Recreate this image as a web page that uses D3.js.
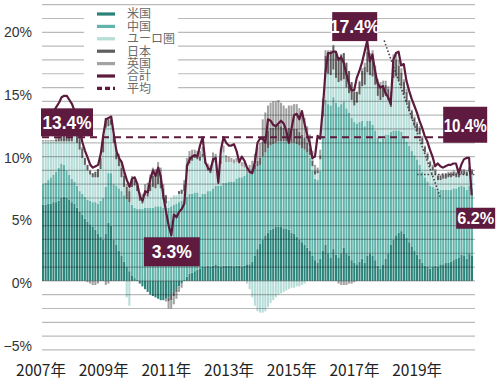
<!DOCTYPE html>
<html>
<head>
<meta charset="utf-8">
<script src="https://cdn.jsdelivr.net/npm/d3@7"></script>
<style>
  body { margin: 0; background: #fff; }
  svg { display: block; }
</style>
</head>
<body>
<div id="chart"></div>
<script>
// monthly contributions (%), Jan 2007 .. Sep 2020
const usValues = [
  5.5,5.5,5.6,5.6,5.7,5.7,5.8,6.0,6.1,6.0,5.9,5.7,
  5.6,5.3,5.0,4.8,4.5,4.3,4.1,3.9,3.7,3.4,3.2,3.0,
  3.4,4.2,4.0,3.0,2.6,2.2,1.8,1.4,1.0,0.7,0.4,0.2,
  0.1,-0.2,-0.4,-0.6,-0.8,-1.0,-1.1,-1.2,-1.3,-1.4,-1.4,-1.3,
  -1.2,-1.0,-0.8,-0.6,-0.4,-0.2,0.1,0.3,0.5,0.6,0.7,0.8,
  0.9,1.0,1.0,1.1,1.0,1.1,1.2,1.1,1.0,1.1,1.1,1.1,
  1.1,1.0,1.1,1.1,1.0,1.1,1.2,1.2,1.4,1.8,2.3,2.7,
  3.0,3.3,3.5,3.7,3.8,3.9,3.9,3.9,3.8,3.8,3.7,3.5,
  3.4,3.2,3.0,2.8,2.6,2.4,2.2,1.8,1.5,1.3,1.6,2.2,
  2.6,2.0,1.7,2.3,1.9,1.7,2.0,2.4,2.0,1.8,1.5,1.3,
  1.2,1.4,1.6,1.3,1.8,2.0,1.8,1.5,1.1,0.9,1.2,1.6,
  2.0,2.6,3.0,3.3,3.5,3.6,3.4,3.1,2.8,2.5,2.2,1.9,
  1.6,1.3,1.1,1.0,0.9,1.0,1.1,1.0,1.2,1.2,1.3,1.3,
  1.4,1.5,1.6,1.7,1.9,1.8,1.6,2.0,1.8
];
const chinaValues = [
  1.5,1.6,1.7,1.9,2.0,2.2,2.4,2.5,2.3,2.0,1.8,1.7,
  1.6,1.6,1.5,1.5,1.6,1.6,1.7,1.8,2.0,2.2,2.6,3.0,
  3.4,3.6,3.8,4.0,4.3,4.5,4.7,4.8,4.9,5.0,5.1,5.1,
  5.1,5.2,5.2,5.3,5.3,5.3,5.3,5.4,5.4,5.4,5.3,5.3,
  5.3,5.4,5.5,5.6,5.7,5.8,5.8,5.8,5.8,5.7,5.7,5.6,
  5.2,5.3,5.3,5.4,5.5,5.6,5.7,5.8,5.9,6.0,6.0,6.1,
  6.1,6.2,6.3,6.4,6.5,6.5,6.6,6.6,6.5,6.3,6.0,5.7,
  6.0,6.0,6.1,6.1,6.1,6.1,6.2,6.2,6.3,6.3,6.4,6.5,
  6.6,6.7,6.8,6.8,6.9,6.9,6.7,6.2,5.9,6.0,6.4,8.3,
  10.5,10.8,11.0,11.0,11.0,10.9,10.8,10.6,10.5,10.4,10.3,10.2,
  10.2,10.1,10.0,9.9,9.8,9.6,9.5,9.4,9.3,9.2,9.1,9.0,
  8.6,8.2,7.9,7.6,7.4,7.2,7.1,7.0,7.0,6.9,6.9,6.9,
  6.8,6.6,6.4,6.2,6.0,5.8,5.6,5.5,5.4,5.4,5.3,5.3,
  5.2,5.2,5.1,5.1,5.0,5.0,5.0,4.9,4.9
];
const euroValues = [
  3.1,3.0,2.8,2.6,2.4,2.2,1.9,1.6,1.7,2.1,2.4,2.7,
  3.3,3.1,3.0,2.6,2.3,2.1,1.9,1.8,1.8,1.9,2.3,3.3,
  4.3,3.4,3.5,3.0,1.9,1.6,1.0,0.6,-1.2,-1.8,1.3,1.6,
  1.3,0.6,0.4,0.9,0.8,1.2,1.5,1.3,1.6,1.3,0.6,0.3,
  0.5,0.6,0.7,0.6,0.6,0.5,0.6,1.8,2.2,2.4,2.5,2.4,
  2.6,2.7,2.2,1.5,1.3,1.9,1.7,0.6,1.6,2.2,1.5,1.4,
  1.4,1.3,1.2,1.0,0.8,0.6,-0.2,-0.6,-1.2,-1.8,-2.2,-2.3,
  -2.3,-2.2,-1.9,-1.6,-1.4,-1.2,-1.0,-0.9,-0.8,-0.7,-0.6,-0.5,
  -0.5,-0.4,-0.4,-0.3,-0.2,0.0,0.2,0.3,0.3,0.5,0.8,1.4,
  2.0,2.2,2.2,2.0,1.8,1.8,1.7,1.6,1.5,1.4,1.3,1.2,
  1.5,2.0,2.5,3.0,3.5,3.3,3.5,3.3,3.0,3.0,3.0,2.8,
  2.5,1.8,3.8,3.9,3.6,3.3,3.0,2.8,2.5,2.3,2.1,2.0,
  2.2,2.0,1.8,1.6,1.4,1.2,1.0,0.8,0.7,0.8,0.8,0.9,
  0.9,0.9,0.8,0.7,0.8,0.9,1.0,1.0,1.0
];
const japanValues = [
  0.0,0.0,0.0,0.0,0.0,0.1,0.3,0.6,0.7,0.6,0.6,0.7,
  0.8,0.9,1.0,0.7,0.5,0.4,0.3,0.3,0.4,0.6,0.8,1.0,
  0.7,0.5,0.4,0.5,0.5,0.6,0.7,0.8,0.9,0.8,0.6,0.4,
  0.4,0.3,0.3,0.3,0.4,0.5,0.8,0.9,1.0,1.0,0.8,0.6,
  -0.3,-0.4,-0.3,-0.2,0.2,0.3,0.5,0.6,0.5,0.4,0.3,0.3,
  0.3,0.2,0.1,0.2,0.3,0.3,0.2,0.2,0.1,0.0,0.0,0.0,
  0.0,0.0,0.0,0.0,0.0,0.0,0.0,0.1,0.2,0.3,0.4,0.5,
  1.1,1.2,1.3,1.3,1.2,1.2,1.2,1.1,1.0,0.9,1.0,1.0,
  1.0,1.1,1.0,1.0,0.9,0.7,0.5,0.4,0.3,0.2,0.3,0.5,
  1.2,1.4,1.6,1.7,1.8,1.8,1.9,1.9,1.8,1.6,1.3,1.0,
  0.8,0.9,1.1,1.3,1.5,1.2,1.4,1.1,1.0,1.0,0.9,0.8,
  0.8,0.9,1.2,1.2,1.1,1.0,0.9,0.8,0.7,0.6,0.6,0.6,
  0.5,0.5,0.4,0.4,0.3,0.3,0.3,0.3,0.3,0.3,0.3,0.3,
  0.3,0.3,0.3,0.3,0.3,0.3,0.3,0.3,0.3
];
const ukValues = [
  0.1,0.1,0.1,0.1,0.1,0.2,0.3,0.4,0.3,0.3,0.3,0.3,
  0.3,0.3,0.2,0.1,0.0,-0.1,-0.2,-0.3,-0.3,-0.2,0.0,0.1,
  -0.3,-0.2,0.0,0.1,0.2,0.3,0.4,0.3,0.2,0.2,0.2,0.2,
  0.2,0.3,0.4,0.5,0.6,0.7,0.6,0.5,0.6,0.5,0.3,-0.2,
  -0.5,-0.6,-0.6,-0.5,-0.4,-0.3,0.3,0.4,0.4,0.4,0.3,0.3,
  0.4,0.5,0.3,0.3,0.3,0.4,0.4,0.3,0.4,0.5,0.5,0.4,
  0.3,0.3,0.3,0.3,0.3,0.4,0.4,0.5,0.6,0.8,1.0,1.1,
  1.6,1.7,1.8,1.8,1.9,1.8,1.8,1.7,1.6,1.5,1.6,1.7,
  1.8,1.8,1.7,1.6,1.4,1.2,1.0,0.7,0.4,0.2,0.4,0.8,
  0.4,0.3,0.2,0.1,0.0,-0.2,-0.3,-0.3,-0.3,-0.2,-0.2,-0.1,
  0.0,0.1,0.2,0.3,0.5,0.4,0.5,0.3,0.2,0.3,0.3,0.3,
  0.2,0.2,0.5,0.5,0.4,0.3,0.2,0.2,0.1,0.1,0.1,0.1,
  0.1,0.1,0.1,0.1,0.1,0.1,0.1,0.1,0.1,0.1,0.1,0.1,
  0.1,0.1,0.1,0.1,0.1,0.1,0.1,0.1,0.1
];
const totalValues = [
  11.6,11.9,12.2,12.0,12.3,12.6,12.9,13.3,13.4,13.4,13.1,12.8,
  12.3,11.6,10.9,10.0,9.4,8.9,8.4,8.2,8.3,8.4,9.2,10.6,
  11.7,11.8,11.9,10.6,9.4,8.9,8.6,7.9,7.3,6.8,7.4,7.5,
  7.0,6.1,5.8,6.5,6.4,7.4,8.0,7.6,8.2,7.5,6.1,5.0,
  4.0,3.3,4.8,4.6,5.0,5.2,5.6,8.3,8.8,9.0,9.1,9.0,
  9.8,10.4,8.6,8.2,8.0,8.8,8.9,7.1,9.5,10.4,10.0,9.8,
  9.8,9.9,9.4,8.6,9.0,8.7,8.2,7.9,7.8,8.6,10.0,10.3,
  10.3,10.0,11.7,11.6,11.3,11.2,11.4,11.6,11.4,10.9,10.0,11.0,
  12.0,12.1,11.7,12.3,11.4,10.6,10.0,8.9,9.0,10.5,10.3,12.5,
  15.1,16.5,16.5,16.6,16.6,16.0,16.2,15.8,15.0,14.3,13.8,13.8,
  14.7,15.2,15.8,16.6,17.4,15.9,16.4,15.2,14.3,14.0,14.1,13.6,
  13.3,12.8,16.0,16.5,16.6,15.6,15.7,14.5,13.8,13.2,12.7,12.2,
  11.6,11.1,10.5,10.1,9.5,9.0,8.3,8.5,8.3,8.2,8.3,8.4,
  8.4,8.5,8.5,7.8,8.4,8.8,8.9,8.9,6.2
];
const averageValue = 10.4;

const seriesKeys = ['us', 'china', 'euro', 'japan', 'uk'];
const legendLabels = ['米国', '中国', 'ユーロ圏', '日本', '英国', '合計', '平均'];
const yearLabels = ['2007年', '2009年', '2011年', '2013年', '2015年', '2017年', '2019年'];
const yTicks = [-5, 0, 5, 10, 15, 20];

// callouts: month index, value, text
const callouts = [
  { m: 0, v: 13.4, text: '13.4%' },
  { m: 49, v: 3.3, text: '3.3%' },
  { m: 124, v: 17.4, text: '17.4%' },
  { m: 164, v: averageValue, text: '10.4%' },
  { m: 164, v: 6.2, text: '6.2%' }
];
// dotted guide lines (month index, value)
const trendLine = [[131, 17.4], [152.4, 6.1]];
const levelLine = [[143.6, 7.7], [165.5, 7.7]];

const colors = {
  us: '#2a8279', china: '#62b3aa', euro: '#b6ddd8', japan: '#5f5f5f', uk: '#a2a2a2',
  total: '#5c1b3d'
};
const boxColor = '#5e1a3f';

const width = 500, height = 379;
const n = usValues.length;
const table = d3.range(n).map(i => ({
  us: usValues[i], china: chinaValues[i], euro: euroValues[i],
  japan: japanValues[i], uk: ukValues[i]
}));

const svg = d3.select('#chart').append('svg')
  .attr('width', width).attr('height', height);

const x = d3.scaleBand().domain(d3.range(n)).range([42, 473]).paddingInner(0.22);
const xm = d3.scaleLinear().domain([0, n]).range([42, 473]);   // fractional month -> px
const y = d3.scaleLinear().domain([-5, 20]).range([349.9, 4.7]);
const yLab = d3.scaleLinear().domain([-5, 20]).range([346, 32]); // tick text placement

// stacked bars
const stacked = d3.stack().keys(seriesKeys).offset(d3.stackOffsetDiverging)(table);
svg.append('g').selectAll('g')
  .data(stacked)
  .join('g')
  .attr('fill', d => colors[d.key])
  .selectAll('rect')
  .data(d => d)
  .join('rect')
  .attr('x', (d, i) => x(i))
  .attr('width', x.bandwidth())
  .attr('y', d => y(Math.max(d[0], d[1])))
  .attr('height', d => Math.abs(y(d[0]) - y(d[1])));

// gridlines on top of bars
svg.append('g').selectAll('line')
  .data(d3.range(-5, 21))
  .join('line')
  .attr('x1', 42).attr('x2', 475)
  .attr('y1', d => y(d)).attr('y2', d => y(d))
  .attr('stroke', '#000').attr('stroke-opacity', 0.27).attr('stroke-width', 1.2);

// y tick labels
svg.append('g').selectAll('text')
  .data(yTicks)
  .join('text')
  .attr('x', 32).attr('y', d => yLab(d))
  .attr('dy', '0.35em')
  .attr('text-anchor', 'end')
  .attr('font-family', 'Liberation Sans, Arial, sans-serif')
  .attr('font-size', 14)
  .attr('fill', '#333')
  .text(d => (d < 0 ? '\u2212' + Math.abs(d) : d) + '%');

// x labels
svg.append('g').selectAll('text')
  .data(yearLabels)
  .join('text')
  .attr('x', (d, i) => xm(i * 24) - 1)
  .attr('y', 376)
  .attr('text-anchor', 'middle')
  .attr('font-family', 'Noto Sans CJK JP, sans-serif')
  .attr('font-size', 15.5)
  .attr('fill', '#222')
  .text(d => d);

// average dashed line
svg.append('line')
  .attr('x1', xm(0)).attr('x2', 444)
  .attr('y1', y(averageValue)).attr('y2', y(averageValue))
  .attr('stroke', colors.total).attr('stroke-width', 2)
  .attr('stroke-dasharray', '7,5');

// dotted guides
const guide = d3.line().x(d => xm(d[0])).y(d => y(d[1]));
[trendLine, levelLine].forEach(pts => {
  svg.append('path')
    .attr('d', guide(pts))
    .attr('fill', 'none')
    .attr('stroke', '#4a3a45')
    .attr('stroke-width', 1.6)
    .attr('stroke-dasharray', '1.5,2');
});

// total line
const totalLine = d3.line()
  .x((d, i) => xm(i + 0.5))
  .y(d => y(d));
svg.append('path')
  .datum(totalValues)
  .attr('d', totalLine)
  .attr('fill', 'none')
  .attr('stroke', colors.total)
  .attr('stroke-width', 2.2)
  .attr('stroke-linejoin', 'round');

// legend
const legend = svg.append('g');
legend.append('rect')
  .attr('x', 84).attr('y', 10).attr('width', 94).attr('height', 83)
  .attr('fill', '#fff');
const swatchFill = [colors.us, colors.china, colors.euro, colors.japan, colors.uk, colors.total, colors.total];
legendLabels.forEach((label, i) => {
  const cy = 14 + i * 12.4;
  if (i < 6) {
    legend.append('rect')
      .attr('x', 97).attr('y', cy - 1.6).attr('width', 18).attr('height', 3.2)
      .attr('fill', swatchFill[i]);
  } else {
    legend.append('line')
      .attr('x1', 97).attr('x2', 115).attr('y1', cy).attr('y2', cy)
      .attr('stroke', swatchFill[i]).attr('stroke-width', 3.2)
      .attr('stroke-dasharray', '5,3');
  }
  legend.append('text')
    .attr('x', 127).attr('y', cy)
    .attr('dy', '0.36em')
    .attr('font-family', 'Noto Sans CJK JP, sans-serif')
    .attr('font-size', 12)
    .attr('fill', '#6a6a6a')
    .text(label);
});

// callout boxes
const boxSpec = [
  { dx: -1, dy: 12.5, w: 52, h: 28, fs: 19, tw: 49 },    // 13.4%
  { dx: -27.5, dy: 2, w: 56, h: 29, fs: 18, tw: 40 },    // 3.3%
  { dx: -35, dy: -28.5, w: 45, h: 29, fs: 19, tw: 50 },  // 17.4%
  { dx: -28.5, dy: -30.5, w: 44, h: 36, fs: 19, tw: 43 },// 10.4%
  { dx: -15.5, dy: 12.5, w: 39, h: 21, fs: 17, tw: 37 }  // 6.2%
];
callouts.forEach((c, i) => {
  const s = boxSpec[i];
  const bx = (i === 0 ? xm(c.m) : xm(c.m + 0.5)) + s.dx;
  const by = y(c.v) + s.dy;
  svg.append('rect')
    .attr('x', bx).attr('y', by).attr('width', s.w).attr('height', s.h)
    .attr('fill', boxColor);
  svg.append('text')
    .attr('x', bx + s.w / 2).attr('y', by + s.h / 2)
    .attr('dy', '0.36em')
    .attr('text-anchor', 'middle')
    .attr('font-family', 'Liberation Sans, Arial, sans-serif')
    .attr('font-weight', 'bold')
    .attr('font-size', s.fs)
    .attr('textLength', s.tw)
    .attr('lengthAdjust', 'spacingAndGlyphs')
    .attr('fill', '#fff')
    .text(c.text);
});
</script>
</body>
</html>
